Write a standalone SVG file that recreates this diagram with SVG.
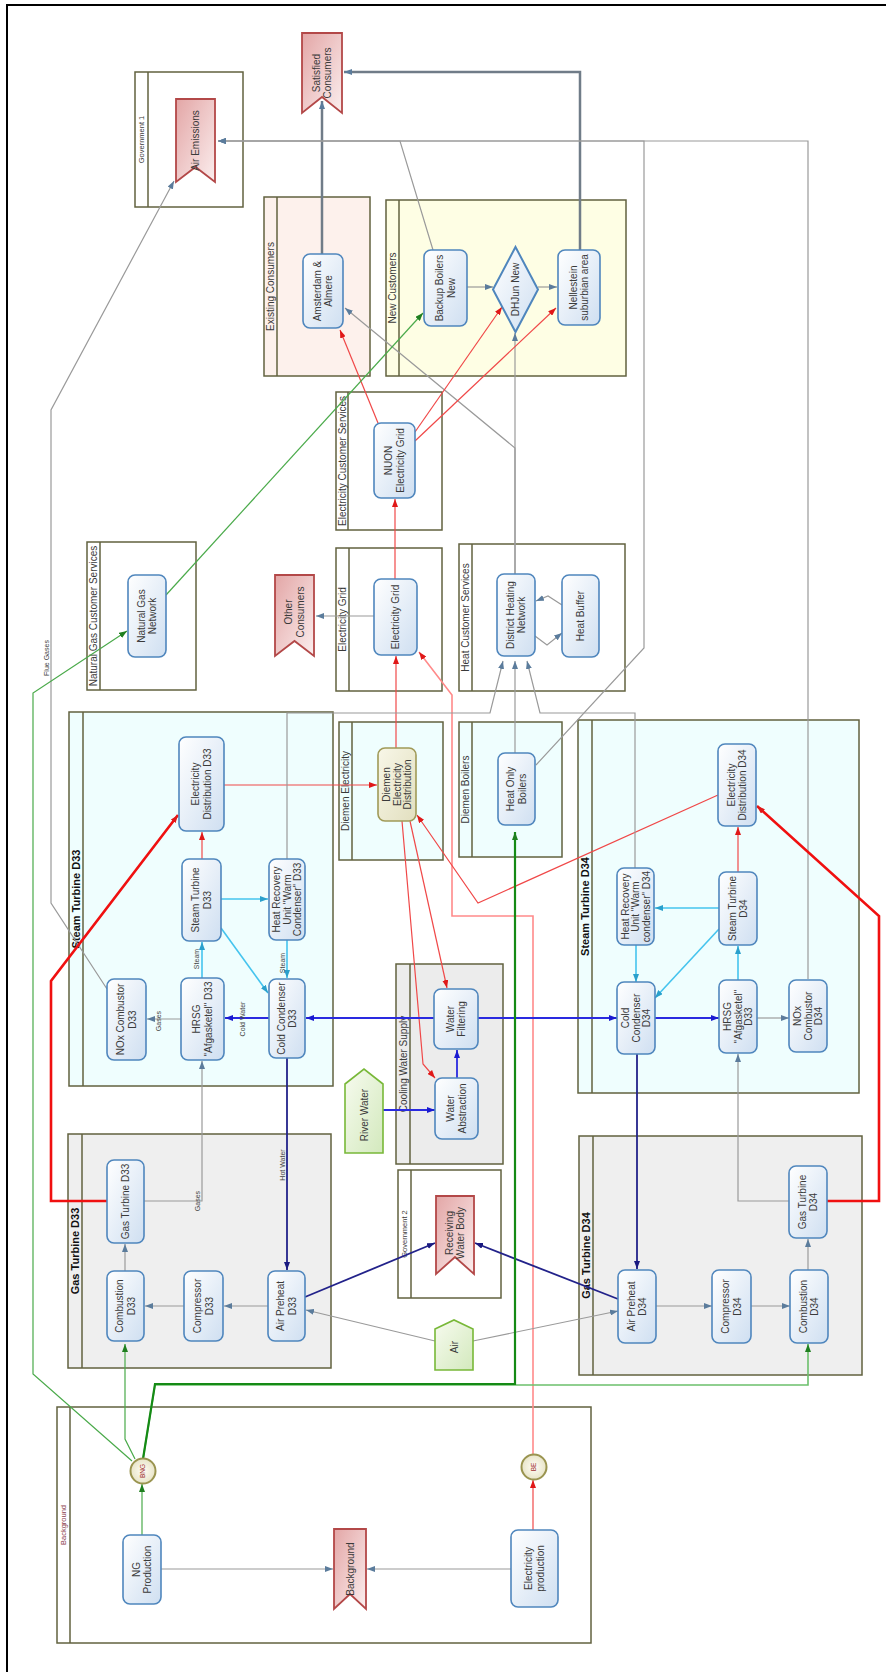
<svg xmlns="http://www.w3.org/2000/svg" width="886" height="1672" viewBox="0 0 886 1672">
<style>
.lane{stroke:#62623f;stroke-width:1.5}
.node{fill:url(#gNode);stroke:#4f86bd;stroke-width:1.6}
.flag{fill:url(#gFlag);stroke:#b34848;stroke-width:1.8}
.pent{fill:url(#gPent);stroke:#78b838;stroke-width:1.6}
.circ{fill:url(#gCirc);stroke:#9a9450;stroke-width:2}
.t{font-family:"Liberation Sans",Arial,sans-serif;font-size:10px;fill:#3a3a3a;text-anchor:middle}
.lt{font-family:"Liberation Sans",Arial,sans-serif;font-size:10px;fill:#3a3a3a;text-anchor:middle}
.bt{font-family:"Liberation Sans",Arial,sans-serif;font-size:11px;font-weight:bold;fill:#111;text-anchor:middle}
.st{font-family:"Liberation Sans",Arial,sans-serif;font-size:7.5px;fill:#3a3a3a;text-anchor:middle}
.sm{font-family:"Liberation Sans",Arial,sans-serif;font-size:7px;fill:#444;text-anchor:middle}
.ci{font-family:"Liberation Sans",Arial,sans-serif;font-size:6.5px;fill:#a03030;text-anchor:middle}
.g{stroke:#9a9a9a;stroke-width:1.2;fill:none;marker-end:url(#mG)}
.gt{stroke:#707c88;stroke-width:2.5;fill:none;marker-end:url(#mG)}
.r{stroke:#f04848;stroke-width:1.2;fill:none;marker-end:url(#mR)}
.rl{stroke:#ff8a8a;stroke-width:1.6;fill:none;marker-end:url(#mR)}
.rt{stroke:#f01010;stroke-width:2.6;fill:none;marker-end:url(#mR)}
.c{stroke:#45c4ee;stroke-width:1.6;fill:none;marker-end:url(#mC)}
.b{stroke:#2a2ae0;stroke-width:1.8;fill:none;marker-end:url(#mB)}
.n{stroke:#22228a;stroke-width:1.8;fill:none;marker-end:url(#mN)}
.gr{stroke:#4aaa4a;stroke-width:1.2;fill:none;marker-end:url(#mGr)}
.grl{stroke:#6cc06c;stroke-width:1.6;fill:none;marker-end:url(#mGr)}
.grd{stroke:#158a15;stroke-width:2.2;fill:none;marker-end:url(#mGr)}
</style>
<defs>
<linearGradient id="gNode" x1="0" y1="0" x2="1" y2="1"><stop offset="0" stop-color="#ffffff"/><stop offset="1" stop-color="#cfdff1"/></linearGradient>
<linearGradient id="gFlag" x1="0" y1="0" x2="1" y2="1"><stop offset="0" stop-color="#e3a6a6"/><stop offset="1" stop-color="#fbeeee"/></linearGradient>
<linearGradient id="gPent" x1="0" y1="0" x2="1" y2="1"><stop offset="0" stop-color="#f7fbef"/><stop offset="1" stop-color="#d3e9bd"/></linearGradient>
<linearGradient id="gDiemen" x1="0" y1="0" x2="1" y2="1"><stop offset="0" stop-color="#f8f7e8"/><stop offset="1" stop-color="#e2dfbf"/></linearGradient>
<radialGradient id="gCirc"><stop offset="0" stop-color="#fffef6"/><stop offset="1" stop-color="#e8e4c8"/></radialGradient>
<marker id="mG" viewBox="0 0 8 6" refX="8" refY="3" markerWidth="8" markerHeight="6" orient="auto" markerUnits="userSpaceOnUse"><path d="M0,0L8,3L0,6z" fill="#5b7c9c"/></marker>
<marker id="mR" viewBox="0 0 8 6" refX="8" refY="3" markerWidth="8" markerHeight="6" orient="auto" markerUnits="userSpaceOnUse"><path d="M0,0L8,3L0,6z" fill="#e01818"/></marker>
<marker id="mC" viewBox="0 0 8 6" refX="8" refY="3" markerWidth="8" markerHeight="6" orient="auto" markerUnits="userSpaceOnUse"><path d="M0,0L8,3L0,6z" fill="#2aa0cc"/></marker>
<marker id="mB" viewBox="0 0 8 6" refX="8" refY="3" markerWidth="8" markerHeight="6" orient="auto" markerUnits="userSpaceOnUse"><path d="M0,0L8,3L0,6z" fill="#1a1ad0"/></marker>
<marker id="mN" viewBox="0 0 8 6" refX="8" refY="3" markerWidth="8" markerHeight="6" orient="auto" markerUnits="userSpaceOnUse"><path d="M0,0L8,3L0,6z" fill="#1a1a80"/></marker>
<marker id="mGr" viewBox="0 0 8 6" refX="8" refY="3" markerWidth="8" markerHeight="6" orient="auto" markerUnits="userSpaceOnUse"><path d="M0,0L8,3L0,6z" fill="#1f7f1f"/></marker>
</defs>
<rect x="0" y="0" width="886" height="1672" fill="#ffffff"/>
<path d="M7,1672V5H886" fill="none" stroke="#000" stroke-width="2"/>

<g id="lanes">
<g id="lane-gov1"><rect class="lane" x="135" y="72" width="108" height="135" fill="#fff"/><line class="lane" x1="148" y1="72" x2="148" y2="207"/><text class="st" transform="rotate(-90 141.5 139.5)" x="141.5" y="142">Government 1</text></g>
<g id="lane-existing"><rect class="lane" x="264" y="197" width="106" height="179" fill="#fdf1ec"/><line class="lane" x1="277" y1="197" x2="277" y2="376"/><text class="lt" transform="rotate(-90 270.5 286.5)" x="270.5" y="290">Existing Consumers</text></g>
<g id="lane-new"><rect class="lane" x="386" y="200" width="240" height="176" fill="#fefee4"/><line class="lane" x1="399" y1="200" x2="399" y2="376"/><text class="lt" transform="rotate(-90 392.5 288)" x="392.5" y="291.5">New Customers</text></g>
<g id="lane-ecs"><rect class="lane" x="336" y="392" width="106" height="138" fill="#fff"/><line class="lane" x1="348" y1="392" x2="348" y2="530"/><text class="lt" transform="rotate(-90 342 461)" x="342" y="464.5">Electricity Customer Services</text></g>
<g id="lane-ngcs"><rect class="lane" x="87" y="542" width="109" height="148" fill="#fff"/><line class="lane" x1="100" y1="542" x2="100" y2="690"/><text class="lt" transform="rotate(-90 93.5 616)" x="93.5" y="619.5">Natural Gas Customer Services</text></g>
<g id="lane-egrid"><rect class="lane" x="336" y="548" width="106" height="143" fill="#fff"/><line class="lane" x1="349" y1="548" x2="349" y2="691"/><text class="lt" transform="rotate(-90 342.5 619.5)" x="342.5" y="623">Electricity Grid</text></g>
<g id="lane-hcs"><rect class="lane" x="459" y="544" width="166" height="147" fill="#fff"/><line class="lane" x1="472" y1="544" x2="472" y2="691"/><text class="lt" transform="rotate(-90 465.5 617.5)" x="465.5" y="621">Heat Customer Services</text></g>
<g id="lane-st33"><rect class="lane" x="69" y="712" width="264" height="374" fill="#effefe"/><line class="lane" x1="83" y1="712" x2="83" y2="1086"/><text class="bt" transform="rotate(-90 76 899)" x="76" y="903">Steam Turbine D33</text></g>
<g id="lane-diemen-el"><rect class="lane" x="339" y="722" width="104" height="138" fill="#effefe"/><line class="lane" x1="352" y1="722" x2="352" y2="860"/><text class="lt" transform="rotate(-90 345.5 791)" x="345.5" y="794.5">Diemen Electricity</text></g>
<g id="lane-diemen-b"><rect class="lane" x="459" y="722" width="103" height="135" fill="#effefe"/><line class="lane" x1="472" y1="722" x2="472" y2="857"/><text class="lt" transform="rotate(-90 465.5 789.5)" x="465.5" y="793">Diemen Boilers</text></g>
<g id="lane-st34"><rect class="lane" x="578" y="720" width="281" height="373" fill="#effefe"/><line class="lane" x1="592" y1="720" x2="592" y2="1093"/><text class="bt" transform="rotate(-90 585 906.5)" x="585" y="910.5">Steam Turbine D34</text></g>
<g id="lane-cws"><rect class="lane" x="396" y="964" width="107" height="200" fill="#ececec"/><line class="lane" x1="410" y1="964" x2="410" y2="1164"/><text class="lt" transform="rotate(-90 403 1064)" x="403" y="1067.5">Cooling Water Supply</text></g>
<g id="lane-gov2"><rect class="lane" x="398" y="1170" width="103" height="128" fill="#fff"/><line class="lane" x1="411" y1="1170" x2="411" y2="1298"/><text class="st" transform="rotate(-90 404.5 1234)" x="404.5" y="1236.5">Government 2</text></g>
<g id="lane-gt33"><rect class="lane" x="68" y="1134" width="263" height="234" fill="#efefef"/><line class="lane" x1="82" y1="1134" x2="82" y2="1368"/><text class="bt" transform="rotate(-90 75 1251)" x="75" y="1255">Gas Turbine D33</text></g>
<g id="lane-gt34"><rect class="lane" x="579" y="1136" width="283" height="239" fill="#efefef"/><line class="lane" x1="593" y1="1136" x2="593" y2="1375"/><text class="bt" transform="rotate(-90 586 1255.5)" x="586" y="1259.5">Gas Turbine D34</text></g>
<g id="lane-bg"><rect class="lane" x="57" y="1407" width="534" height="236" fill="#fff"/><line class="lane" x1="70" y1="1407" x2="70" y2="1643"/><text class="st" style="fill:#8a3c4c" transform="rotate(-90 63.5 1525)" x="63.5" y="1527.5">Background</text></g>
</g>

<g id="connectors">
<path class="gt" d="M322,254V101"/>
<path class="gt" d="M580,250V72H344"/>
<path class="g" d="M808,979V141H218"/>
<path class="g" d="M536,765L644,648V141H218"/>
<path class="g" d="M433,250L400,141H218"/>
<path class="g" d="M107,989L51,903V410L174,181"/>
<text class="sm" transform="rotate(-90 46 658)" x="46" y="660.5">Flue Gases</text>
<path class="g" d="M515,574V333"/>
<path class="g" d="M515,574V448L345,308"/>
<path class="g" d="M467,287H493"/>
<path class="g" d="M538,287H557"/>
<path class="r" d="M378,423L340,330"/>
<path class="r" d="M415,432L502,307"/>
<path class="r" d="M415,441L556,308"/>
<path class="r" d="M395,579V499"/>
<path class="g" d="M374,616H316"/>
<path class="r" d="M396,748V656"/>
<path class="rl" d="M533,1455V916H452V695L419,652"/>
<path class="r" d="M224,785H377"/>
<path class="r" d="M718,795L478,903L417,815"/>
<path class="r" d="M410,821L447,988"/>
<path class="r" d="M402,821L423,1064L435,1078"/>
<path class="gr" d="M166,595L423,313"/>
<path class="gr" d="M132,1461L33,1374V693L127,631"/>
<path class="g" d="M562,605L548,596L536,601"/>
<path class="g" d="M535,636L547,645L562,633"/>
<path class="g" d="M287,859V713H490L503,661"/>
<path class="g" d="M515,753V661"/>
<path class="g" d="M635,868V713H540L527,661"/>
<path class="r" d="M202,859V832"/>
<path class="rt" d="M107,1201H51V981L178,815"/>
<path class="r" d="M738,872V827"/>
<path class="rt" d="M827,1201H879V916L757,806"/>
<path class="c" d="M202,978V942"/>
<text class="sm" transform="rotate(-90 196 959)" x="196" y="961.5">Steam</text>
<path class="c" d="M221,899H268"/>
<path class="c" d="M221,928L268,993"/>
<path class="c" d="M287,940V978"/>
<text class="sm" transform="rotate(-90 282 963)" x="282" y="965.5">Steam</text>
<path class="b" d="M269,1018H225"/>
<text class="sm" transform="rotate(-90 242 1019)" x="242" y="1021.5">Cold Water</text>
<path class="g" d="M181,1019H147"/>
<text class="sm" transform="rotate(-90 158 1021)" x="158" y="1023.5">Gases</text>
<path class="g" d="M144,1201H202V1061"/>
<text class="sm" transform="rotate(-90 197 1201)" x="197" y="1203.5">Gases</text>
<path class="b" d="M434,1018H306"/>
<path class="b" d="M478,1018H617"/>
<path class="b" d="M457,1078V1050"/>
<path class="b" d="M383,1110H435"/>
<path class="n" d="M287,1058V1270"/>
<text class="sm" transform="rotate(-90 282 1165)" x="282" y="1167.5">Hot Water</text>
<path class="n" d="M637,1054V1269"/>
<path class="n" d="M305,1297L435,1243"/>
<path class="n" d="M618,1299L475,1243"/>
<path class="g" d="M435,1341L306,1310"/>
<path class="g" d="M473,1341L618,1311"/>
<path class="g" d="M268,1306H224"/>
<path class="g" d="M184,1306H145"/>
<path class="g" d="M125,1271V1244"/>
<path class="g" d="M656,1306H712"/>
<path class="g" d="M751,1306H790"/>
<path class="g" d="M808,1270V1239"/>
<path class="c" d="M719,908H655"/>
<path class="c" d="M719,929L655,998"/>
<path class="c" d="M636,945V982"/>
<path class="c" d="M738,980V946"/>
<path class="b" d="M655,1018H719"/>
<path class="g" d="M757,1018H789"/>
<path class="g" d="M789,1201H738V1054"/>
<path class="gr" d="M135,1459L125,1439V1344"/>
<path class="grl" d="M143,1459L155,1385H808V1344"/>
<path class="grd" d="M143,1459L155,1384H515V832"/>
<path class="gr" d="M142,1535V1484"/>
<path class="g" d="M161,1569H333"/>
<path class="g" d="M511,1569H367"/>
<path class="r" d="M533,1530V1480"/>
</g>

<g id="nodes">
<g id="n-satisfied"><path class="flag" d="M302,33H342V113L322,97L302,113Z"/><text class="t" transform="rotate(-90 322 73)"><tspan x="322" y="70.75">Satisfied</tspan><tspan x="322" y="82.25">Consumers</tspan></text></g>
<g id="n-airem"><path class="flag" d="M176,99H215V182L195.5,167L176,182Z"/><text class="t" transform="rotate(-90 195.5 140.5)" x="195.5" y="144">Air Emissions</text></g>
<g id="n-amsterdam"><rect class="node" x="303" y="254" width="40" height="74" rx="7"/><text class="t" transform="rotate(-90 323 291)"><tspan x="323" y="288.75">Amsterdam &amp;</tspan><tspan x="323" y="300.25">Almere</tspan></text></g>
<g id="n-backup"><rect class="node" x="424" y="250" width="43" height="76" rx="7"/><text class="t" transform="rotate(-90 445.5 288)"><tspan x="445.5" y="285.75">Backup Boilers</tspan><tspan x="445.5" y="297.25">New</tspan></text></g>
<g id="n-dhjun"><path class="node" style="stroke-width:2" d="M515.5,247L538,289.5L515.5,332L493,289.5Z"/><text class="t" transform="rotate(-90 515.5 289.5)" x="515.5" y="293">DHJun New</text></g>
<g id="n-nellestein"><rect class="node" x="558" y="250" width="42" height="75" rx="7"/><text class="t" transform="rotate(-90 579 287.5)"><tspan x="579" y="285.25">Nellestein</tspan><tspan x="579" y="296.75">suburbian area</tspan></text></g>
<g id="n-nuon"><rect class="node" x="374" y="423" width="41" height="75" rx="7"/><text class="t" transform="rotate(-90 394.5 460.5)"><tspan x="394.5" y="458.25">NUON</tspan><tspan x="394.5" y="469.75">Electricity Grid</tspan></text></g>
<g id="n-egrid"><rect class="node" x="374" y="579" width="43" height="76" rx="7"/><text class="t" transform="rotate(-90 395.5 617)" x="395.5" y="620.5">Electricity Grid</text></g>
<g id="n-other"><path class="flag" d="M275,575H314V656L294.5,641L275,656Z"/><text class="t" transform="rotate(-90 294.5 612)"><tspan x="294.5" y="609.75">Other</tspan><tspan x="294.5" y="621.25">Consumers</tspan></text></g>
<g id="n-ngn"><rect class="node" x="128" y="575" width="38" height="82" rx="7"/><text class="t" transform="rotate(-90 147 616)"><tspan x="147" y="613.75">Natural Gas</tspan><tspan x="147" y="625.25">Network</tspan></text></g>
<g id="n-dhn"><rect class="node" x="497" y="574" width="38" height="82" rx="7"/><text class="t" transform="rotate(-90 516 615)"><tspan x="516" y="612.75">District Heating</tspan><tspan x="516" y="624.25">Network</tspan></text></g>
<g id="n-buffer"><rect class="node" x="562" y="575" width="37" height="82" rx="7"/><text class="t" transform="rotate(-90 580.5 616)" x="580.5" y="619.5">Heat Buffer</text></g>
<g id="n-ed33"><rect class="node" x="179" y="737" width="45" height="94" rx="7"/><text class="t" transform="rotate(-90 201.5 784)"><tspan x="201.5" y="781.75">Electricity</tspan><tspan x="201.5" y="793.25">Distribution D33</tspan></text></g>
<g id="n-diemen"><rect x="378" y="748" width="38" height="73" rx="7" fill="url(#gDiemen)" stroke="#a09a58" stroke-width="1.6"/><text class="t" transform="rotate(-90 397 784.5)"><tspan x="397" y="777.5">Diemen</tspan><tspan x="397" y="788">Electricity</tspan><tspan x="397" y="798.5">Distribution</tspan></text></g>
<g id="n-hob"><rect class="node" x="498" y="753" width="37" height="72" rx="7"/><text class="t" transform="rotate(-90 516.5 789)"><tspan x="516.5" y="786.75">Heat Only</tspan><tspan x="516.5" y="798.25">Boilers</tspan></text></g>
<g id="n-ed34"><rect class="node" x="718" y="744" width="38" height="82" rx="7"/><text class="t" transform="rotate(-90 737 785)"><tspan x="737" y="782.75">Electricity</tspan><tspan x="737" y="794.25">Distribution D34</tspan></text></g>
<g id="n-st33"><rect class="node" x="182" y="859" width="39" height="82" rx="7"/><text class="t" transform="rotate(-90 201.5 900)"><tspan x="201.5" y="897.75">Steam Turbine</tspan><tspan x="201.5" y="909.25">D33</tspan></text></g>
<g id="n-hr33"><rect class="node" x="269" y="859" width="36" height="81" rx="7"/><text class="t" transform="rotate(-90 287 899.5)"><tspan x="287" y="892.5">Heat Recovery</tspan><tspan x="287" y="903">Unit "Warm</tspan><tspan x="287" y="913.5">Condenser" D33</tspan></text></g>
<g id="n-nox33"><rect class="node" x="107" y="979" width="39" height="81" rx="7"/><text class="t" transform="rotate(-90 126.5 1019.5)"><tspan x="126.5" y="1017.25">NOx Combustor</tspan><tspan x="126.5" y="1028.75">D33</tspan></text></g>
<g id="n-hrsg33"><rect class="node" x="181" y="978" width="43" height="82" rx="7"/><text class="t" transform="rotate(-90 202.5 1019)"><tspan x="202.5" y="1016.75">HRSG</tspan><tspan x="202.5" y="1028.25">"Afgasketel" D33</tspan></text></g>
<g id="n-cc33"><rect class="node" x="269" y="979" width="36" height="79" rx="7"/><text class="t" transform="rotate(-90 287 1018.5)"><tspan x="287" y="1016.25">Cold Condenser</tspan><tspan x="287" y="1027.75">D33</tspan></text></g>
<g id="n-hr34"><rect class="node" x="617" y="868" width="37" height="77" rx="7"/><text class="t" transform="rotate(-90 635.5 906.5)"><tspan x="635.5" y="899.5">Heat Recovery</tspan><tspan x="635.5" y="910">Unit "Warm</tspan><tspan x="635.5" y="920.5">condenser" D34</tspan></text></g>
<g id="n-st34"><rect class="node" x="719" y="872" width="38" height="73" rx="7"/><text class="t" transform="rotate(-90 738 908.5)"><tspan x="738" y="906.25">Steam Turbine</tspan><tspan x="738" y="917.75">D34</tspan></text></g>
<g id="n-cc34"><rect class="node" x="617" y="982" width="38" height="72" rx="7"/><text class="t" transform="rotate(-90 636 1018)"><tspan x="636" y="1011">Cold</tspan><tspan x="636" y="1021.5">Condenser</tspan><tspan x="636" y="1032">D34</tspan></text></g>
<g id="n-hrsg34"><rect class="node" x="719" y="980" width="38" height="73" rx="7"/><text class="t" transform="rotate(-90 738 1016.5)"><tspan x="738" y="1009.5">HRSG</tspan><tspan x="738" y="1020">"Afgasketel"</tspan><tspan x="738" y="1030.5">D33</tspan></text></g>
<g id="n-nox34"><rect class="node" x="789" y="980" width="38" height="72" rx="7"/><text class="t" transform="rotate(-90 808 1016)"><tspan x="808" y="1009">NOx</tspan><tspan x="808" y="1019.5">Combustor</tspan><tspan x="808" y="1030">D34</tspan></text></g>
<g id="n-wf"><rect class="node" x="434" y="989" width="44" height="60" rx="7"/><text class="t" transform="rotate(-90 456 1019)"><tspan x="456" y="1016.75">Water</tspan><tspan x="456" y="1028.25">Filtering</tspan></text></g>
<g id="n-wa"><rect class="node" x="435" y="1078" width="43" height="61" rx="7"/><text class="t" transform="rotate(-90 456.5 1108.5)"><tspan x="456.5" y="1106.25">Water</tspan><tspan x="456.5" y="1117.75">Abstraction</tspan></text></g>
<g id="n-river"><path class="pent" d="M345,1084L364,1069L383,1084V1153H345Z"/><text class="t" transform="rotate(-90 364 1115)" x="364" y="1118.5">River Water</text></g>
<g id="n-rwb"><path class="flag" d="M436,1196H474V1274L455,1257L436,1274Z"/><text class="t" transform="rotate(-90 455 1233)"><tspan x="455" y="1230.75">Receiving</tspan><tspan x="455" y="1242.25">Water Body</tspan></text></g>
<g id="n-gt33"><rect class="node" x="107" y="1160" width="37" height="83" rx="7"/><text class="t" transform="rotate(-90 125.5 1201.5)" x="125.5" y="1205">Gas Turbine D33</text></g>
<g id="n-comb33"><rect class="node" x="107" y="1271" width="37" height="70" rx="7"/><text class="t" transform="rotate(-90 125.5 1306)"><tspan x="125.5" y="1303.75">Combustion</tspan><tspan x="125.5" y="1315.25">D33</tspan></text></g>
<g id="n-comp33"><rect class="node" x="184" y="1271" width="39" height="70" rx="7"/><text class="t" transform="rotate(-90 203.5 1306)"><tspan x="203.5" y="1303.75">Compressor</tspan><tspan x="203.5" y="1315.25">D33</tspan></text></g>
<g id="n-ap33"><rect class="node" x="268" y="1271" width="37" height="70" rx="7"/><text class="t" transform="rotate(-90 286.5 1306)"><tspan x="286.5" y="1303.75">Air Preheat</tspan><tspan x="286.5" y="1315.25">D33</tspan></text></g>
<g id="n-air"><path class="pent" d="M435,1329L454,1320L473,1329V1370H435Z"/><text class="t" transform="rotate(-90 454 1347)" x="454" y="1350.5">Air</text></g>
<g id="n-gt34"><rect class="node" x="789" y="1166" width="38" height="72" rx="7"/><text class="t" transform="rotate(-90 808 1202)"><tspan x="808" y="1199.75">Gas Turbine</tspan><tspan x="808" y="1211.25">D34</tspan></text></g>
<g id="n-ap34"><rect class="node" x="618" y="1270" width="38" height="73" rx="7"/><text class="t" transform="rotate(-90 637 1306.5)"><tspan x="637" y="1304.25">Air Preheat</tspan><tspan x="637" y="1315.75">D34</tspan></text></g>
<g id="n-comp34"><rect class="node" x="712" y="1270" width="39" height="73" rx="7"/><text class="t" transform="rotate(-90 731.5 1306.5)"><tspan x="731.5" y="1304.25">Compressor</tspan><tspan x="731.5" y="1315.75">D34</tspan></text></g>
<g id="n-comb34"><rect class="node" x="790" y="1270" width="38" height="73" rx="7"/><text class="t" transform="rotate(-90 809 1306.5)"><tspan x="809" y="1304.25">Combustion</tspan><tspan x="809" y="1315.75">D34</tspan></text></g>
<g id="n-bng"><circle class="circ" cx="143" cy="1471" r="12.5"/><text class="ci" transform="rotate(-90 143 1471)" x="143" y="1473.3">BNG</text></g>
<g id="n-be"><circle class="circ" cx="534" cy="1467" r="12.5"/><text class="ci" transform="rotate(-90 534 1467)" x="534" y="1469.3">BE</text></g>
<g id="n-ngprod"><rect class="node" x="123" y="1535" width="38" height="69" rx="7"/><text class="t" transform="rotate(-90 142 1569.5)"><tspan x="142" y="1567.25">NG</tspan><tspan x="142" y="1578.75">Production</tspan></text></g>
<g id="n-bgflag"><path class="flag" d="M334,1529H366V1609L350,1594L334,1609Z"/><text class="t" transform="rotate(-90 350 1569)" x="350" y="1572.5">Background</text></g>
<g id="n-eprod"><rect class="node" x="511" y="1530" width="47" height="77" rx="7"/><text class="t" transform="rotate(-90 534.5 1568.5)"><tspan x="534.5" y="1566.25">Electricity</tspan><tspan x="534.5" y="1577.75">production</tspan></text></g>
</g>
</svg>
